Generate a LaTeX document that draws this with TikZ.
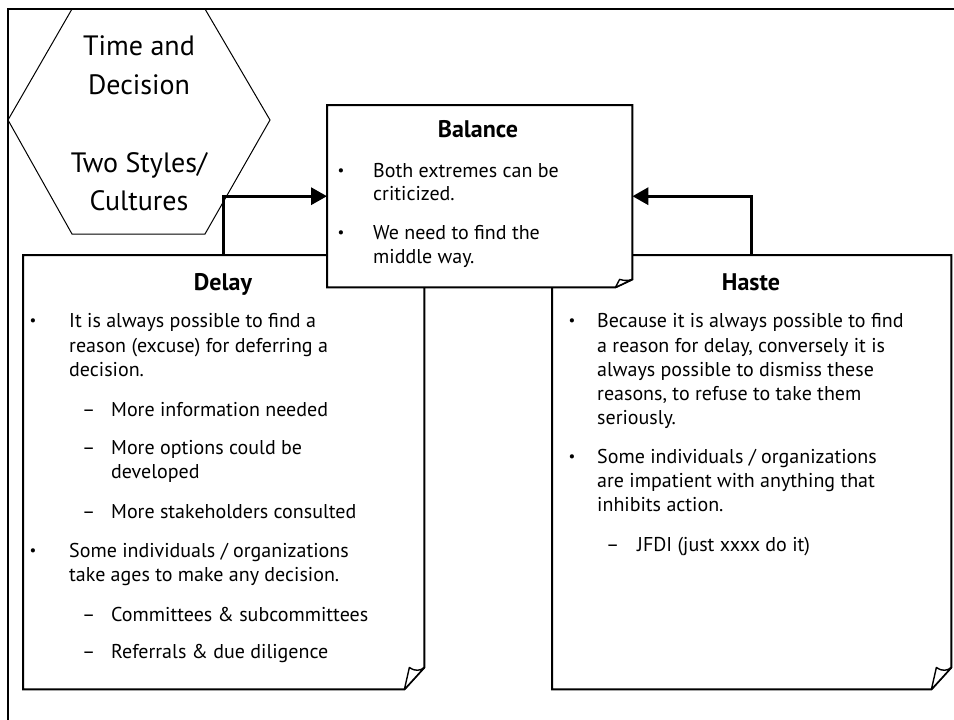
\documentclass[tikz,border=0pt]{standalone}
\usepackage{fontspec}
\setmainfont{PT Sans}
\usetikzlibrary{arrows.meta}

% outline of a note with a curled lower-right corner: #1 node, #2 curl width, #3 curl height
\newcommand\foldedbox[3]{%
  \draw[notebox] (#1.north west) -- (#1.north east)
    -- ([yshift=#3pt]#1.south east) -- ([xshift=-#2pt]#1.south east)
    -- (#1.south west) -- cycle;
  \draw[curl] ([xshift=-#2pt]#1.south east)
    -- ([xshift={-0.75*#2pt},yshift=#3pt]#1.south east)
    .. controls ([xshift={-0.45*#2pt},yshift={0.8*#3pt}]#1.south east)
    and ([xshift={-0.2*#2pt},yshift={0.85*#3pt}]#1.south east)
    .. ([yshift=#3pt]#1.south east) -- cycle;}

\begin{document}
\begin{tikzpicture}[x=1pt,y=-1pt,
  frame/.style={line width=2.4pt},
  hexline/.style={line width=1pt, line join=miter},
  notebox/.style={line width=2pt, fill=white, line join=miter},
  curl/.style={line width=1.4pt, fill=white, line join=round},
  area/.style={inner sep=0pt, anchor=north west, draw=none},
  conn/.style={line width=3.3pt, -{Triangle[length=16pt,width=17pt]}},
  hextext/.style={anchor=base, inner sep=0pt, font=\fontsize{28}{30}\selectfont},
  ttl/.style={anchor=base, inner sep=0pt, font=\bfseries\fontsize{24}{28}\selectfont},
  txt/.style={anchor=base west, inner sep=0pt, font=\fontsize{20}{24}\selectfont},
  bul/.style={anchor=base, inner sep=0pt, font=\fontsize{15}{18}\selectfont},
]
\useasboundingbox (0,0) rectangle (954,720);

% page frame
\draw[frame] (954,9) -- (8,9) -- (8,720);

% hexagon with the heading
\draw[hexline] (8,120) -- (72,9) -- (205,9) -- (270,120) -- (205,234) -- (72,234) -- cycle;
\node[hextext] (h1) at (139,55) {Time and};
\node[hextext] (h2) at (139,94) {Decision};
\node[hextext] (h3) at (139,172) {Two Styles/};
\node[hextext] (h4) at (139,210) {Cultures};

% note areas
\node[area, minimum width=401pt, minimum height=434pt] (delay) at (23,255) {};
\node[area, minimum width=399pt, minimum height=434pt] (haste) at (552,255) {};
\node[area, minimum width=305pt, minimum height=182pt] (balance) at (327,105) {};

\foldedbox{delay}{20}{22}
\foldedbox{haste}{20}{22}

% connectors into the middle note
\draw[conn] (delay.north) |- (balance.west);
\draw[conn] (haste.north) |- (balance.east);

\foldedbox{balance}{17}{8}

% Balance
\node[ttl] (bt) at (478,137) {Balance};
\node[bul] (bb1) at (341,175) {•};
\node[txt] (b1) at (373,177) {Both extremes can be};
\node[txt] (b2) at (373,200) {criticized.};
\node[bul] (bb2) at (341,237) {•};
\node[txt] (b3) at (373,239) {We need to find the};
\node[txt] (b4) at (373,263) {middle way.};

% Delay
\node[ttl] (dt) at (223,290) {Delay};
\node[bul] (db1) at (33,325) {•};
\node[txt] (d1) at (69,327) {It is always possible to find a};
\node[txt] (d2) at (69,352) {reason (excuse) for deferring a};
\node[txt] (d3) at (69,376) {decision.};
\node[txt] (dd1) at (82,416) {–};
\node[txt] (d4) at (111,416) {More information needed};
\node[txt] (dd2) at (82,454) {–};
\node[txt] (d5) at (111,454) {More options could be};
\node[txt] (d6) at (111,478) {developed};
\node[txt] (dd3) at (82,518) {–};
\node[txt] (d7) at (111,518) {More stakeholders consulted};
\node[bul] (db2) at (33,555) {•};
\node[txt] (d8) at (69,557) {Some individuals / organizations};
\node[txt] (d9) at (69,581) {take ages to make any decision.};
\node[txt] (dd4) at (82,621) {–};
\node[txt] (d10) at (111,621) {Committees \& subcommittees};
\node[txt] (dd5) at (82,658) {–};
\node[txt] (d11) at (111,658) {Referrals \& due diligence};

% Haste
\node[ttl] (st) at (751,290) {Haste};
\node[bul] (sb1) at (572,325) {•};
\node[txt] (s1) at (597,327) {Because it is always possible to find};
\node[txt] (s2) at (597,352) {a reason for delay, conversely it is};
\node[txt] (s3) at (597,376) {always possible to dismiss these};
\node[txt] (s4) at (597,400) {reasons, to refuse to take them};
\node[txt] (s5) at (597,424) {seriously.};
\node[bul] (sb2) at (572,461) {•};
\node[txt] (s6) at (597,463) {Some individuals / organizations};
\node[txt] (s7) at (597,487) {are impatient with anything that};
\node[txt] (s8) at (597,511) {inhibits action.};
\node[txt] (sd1) at (606,551) {–};
\node[txt] (s9) at (637,551) {JFDI (just xxxx do it)};
\end{tikzpicture}
\end{document}
